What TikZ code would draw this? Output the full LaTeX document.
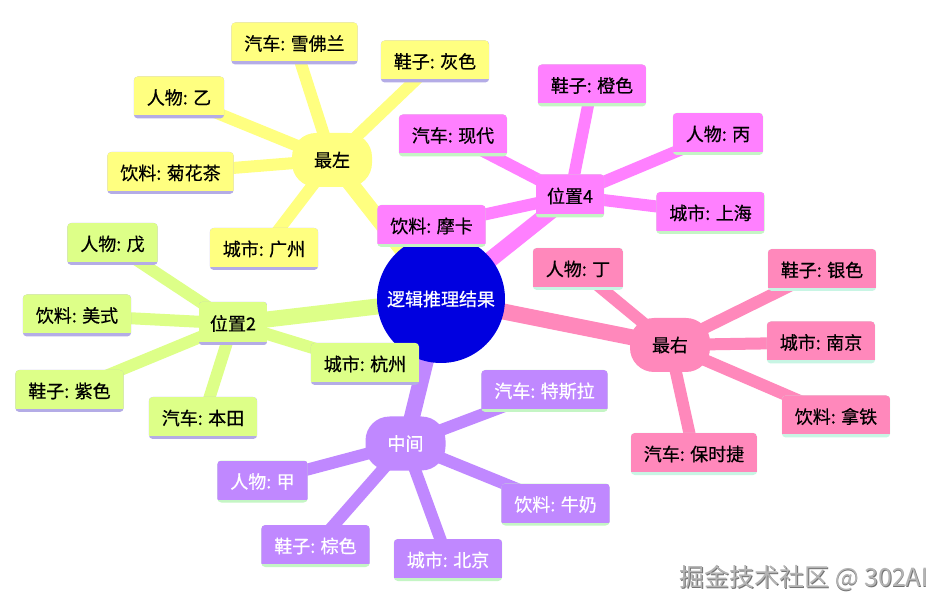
\documentclass[tikz,border=0pt]{standalone}
\usepackage{fontspec}
\setmainfont{Noto Sans CJK SC}[FakeBold=0.6]
\newfontfamily\wmfont{Noto Sans CJK SC}
\usetikzlibrary{backgrounds}
\definecolor{colyel}{HTML}{FFFF80}
\definecolor{colmag}{HTML}{FF80FF}
\definecolor{colpnk}{HTML}{FF88BB}
\definecolor{colgrn}{HTML}{DDFF88}
\definecolor{colvio}{HTML}{C088FF}
\definecolor{colroot}{HTML}{0000E0}
\definecolor{ulav}{HTML}{B4ACE6}
\definecolor{ugreen}{HTML}{C4F5C4}
\definecolor{umint}{HTML}{C8F5E4}
\definecolor{wmgray}{HTML}{B4B4B4}
\begin{document}
\begin{tikzpicture}[x=1pt,y=-1pt,
  txt/.style={font=\fontsize{18}{22}\selectfont},
  leafbox/.style 2 args={txt, fill=#2, rounded corners=4pt, inner xsep=13pt, inner ysep=0pt,
    minimum height=42pt,
    path picture={\fill[#1, sharp corners] ([yshift=3pt]path picture bounding box.south west) rectangle (path picture bounding box.north east);}},
  pillbox/.style={txt, fill=#1, rounded corners=24pt, minimum width=80pt, minimum height=54pt, inner sep=0pt},
  posbox/.style 2 args={txt, fill=#2, rounded corners=3pt, inner xsep=11pt, inner ysep=0pt,
    minimum height=43pt,
    path picture={\fill[#1, sharp corners] ([yshift=3pt]path picture bounding box.south west) rectangle (path picture bounding box.north east);}},
  rootbox/.style={txt, circle, fill=colroot, text=white, minimum size=128pt, inner sep=0pt},
  trunk/.style={line width=16pt, line cap=butt},
  twig/.style={line width=12pt, line cap=butt}
]
\useasboundingbox (0,0) rectangle (948,609);

\node[rootbox] (r) at (441,299) {逻辑推理结果};

% yellow branch
\node[pillbox=colyel] (zl) at (332,160) {最左};
\node[leafbox={colyel}{ulav}] (y1) at (294.5,43.5) {汽车: 雪佛兰};
\node[leafbox={colyel}{ulav}] (y2) at (435,61.5) {鞋子: 灰色};
\node[leafbox={colyel}{ulav}] (y3) at (179,97.5) {人物: 乙};
\node[leafbox={colyel}{ulav}] (y4) at (170.5,173) {饮料: 菊花茶};
\node[leafbox={colyel}{ulav}] (y5) at (264,249) {城市: 广州};

% magenta branch
\node[posbox={colmag}{ugreen}] (p4) at (570,196) {位置4};
\node[leafbox={colmag}{ugreen}] (m1) at (592,85.5) {鞋子: 橙色};
\node[leafbox={colmag}{ugreen}] (m2) at (453,135.5) {汽车: 现代};
\node[leafbox={colmag}{ugreen}] (m3) at (718,134) {人物: 丙};
\node[leafbox={colmag}{ugreen}] (m4) at (710.5,213) {城市: 上海};
\node[leafbox={colmag}{ugreen}] (m5) at (431.5,226) {饮料: 摩卡};

% hot pink branch
\node[pillbox=colpnk] (zr) at (670,345) {最右};
\node[leafbox={colpnk}{umint}] (h1) at (578,269) {人物: 丁};
\node[leafbox={colpnk}{umint}] (h2) at (822,270) {鞋子: 银色};
\node[leafbox={colpnk}{umint}] (h3) at (821,342.5) {城市: 南京};
\node[leafbox={colpnk}{umint}] (h4) at (836,416.5) {饮料: 拿铁};
\node[leafbox={colpnk}{umint}] (h5) at (694,454) {汽车: 保时捷};

% green branch
\node[posbox={colgrn}{ulav}] (p2) at (233,323.5) {位置2};
\node[leafbox={colgrn}{ulav}] (g1) at (112.5,244) {人物: 戊};
\node[leafbox={colgrn}{ulav}] (g2) at (77,315.5) {饮料: 美式};
\node[leafbox={colgrn}{ulav}] (g3) at (69.5,391) {鞋子: 紫色};
\node[leafbox={colgrn}{ulav}] (g4) at (203,418) {汽车: 本田};
\node[leafbox={colgrn}{ulav}] (g5) at (365,364) {城市: 杭州};

% purple branch
\node[pillbox=colvio, text=white] (zj) at (405.5,443.5) {中间};
\node[leafbox={colvio}{ugreen}, text=white] (v1) at (544.5,391) {汽车: 特斯拉};
\node[leafbox={colvio}{ugreen}, text=white] (v2) at (262.5,481.5) {人物: 甲};
\node[leafbox={colvio}{ugreen}, text=white] (v3) at (555.5,504.5) {饮料: 牛奶};
\node[leafbox={colvio}{ugreen}, text=white] (v4) at (315.5,546) {鞋子: 棕色};
\node[leafbox={colvio}{ugreen}, text=white] (v5) at (448,560) {城市: 北京};

% watermark
\node[font=\wmfont\fontsize{25}{28}\selectfont, text=black!55] (wms) at (804.8,578.8) {掘金技术社区 @ 302AI};
\node[font=\wmfont\fontsize{25}{28}\selectfont, text=wmgray] (wm) at (804,578) {掘金技术社区 @ 302AI};

\begin{scope}[on background layer]
  \fill[white] (0,0) rectangle (948,609);
  \draw[trunk, colyel] (r.center) -- (zl.center);
  \draw[trunk, colmag] (r.center) -- (p4.center);
  \draw[trunk, colpnk] (r.center) -- (zr.center);
  \draw[trunk, colgrn] (r.center) -- (p2.center);
  \draw[trunk, colvio] (r.center) -- (zj.center);
  \foreach \n in {y1,y2,y3,y4,y5} \draw[twig, colyel] (zl.center) -- (\n.center);
  \foreach \n in {m1,m2,m3,m4,m5} \draw[twig, colmag] (p4.center) -- (\n.center);
  \foreach \n in {h1,h2,h3,h4,h5} \draw[twig, colpnk] (zr.center) -- (\n.center);
  \foreach \n in {g1,g2,g3,g4,g5} \draw[twig, colgrn] (p2.center) -- (\n.center);
  \foreach \n in {v1,v2,v3,v4,v5} \draw[twig, colvio] (zj.center) -- (\n.center);
\end{scope}
\end{tikzpicture}
\end{document}
